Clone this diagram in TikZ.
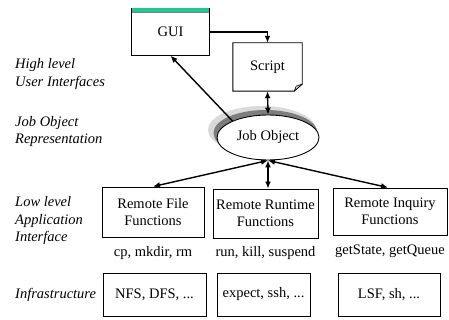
\documentclass[tikz,border=0pt]{standalone}
\usepackage{fontspec}
\setmainfont{Liberation Serif}
\usetikzlibrary{arrows.meta,shapes.geometric,calc}
\definecolor{guibar}{RGB}{30,200,145}
\definecolor{shadowlight}{RGB}{218,218,218}
\definecolor{shadowdark}{RGB}{125,125,125}

\begin{document}
\begin{tikzpicture}[x=1pt,y=-1pt,
  font=\fontsize{14.5}{17.5}\selectfont,
  box/.style={draw, line width=0.9pt, align=center, inner sep=0pt},
  conn/.style={line width=1.4pt, -{Latex[length=7pt,width=6pt]}},
  biconn/.style={line width=1.4pt, {Latex[length=7pt,width=6pt]}-{Latex[length=7pt,width=6pt]}},
  layer/.style={font=\fontsize{14.5}{17.5}\selectfont\itshape, align=left, anchor=west, inner sep=0pt},
  caption/.style={inner sep=0pt}]
\useasboundingbox (0,0) rectangle (449,320);

% layer titles on the left
\node[layer] (l1) at (15,74) {High level\\User Interfaces};
\node[layer] (l2) at (15,131.5) {Job Object\\Representation};
\node[layer] (l3) at (15,221) {Low level\\Application\\Interface};
\node[layer] (l4) at (15,295) {Infrastructure};

% user interfaces: window with a green title bar
\node[align=center, inner sep=0pt, minimum width=77pt, minimum height=47pt] (gui) at (170.5,32) {GUI};
\fill[guibar] (gui.north west) rectangle ($(gui.north east)+(0,3.5)$);
\draw[gray, line width=0.8pt] ($(gui.north west)+(0,3.8)$) -- ($(gui.north east)+(0,3.8)$);
\draw[line width=0.9pt] (gui.north west) -- (gui.south west) -- (gui.south east) -- (gui.north east);

% script: document with a folded lower right corner
\node[inner sep=0pt, minimum width=69pt, minimum height=48pt] (script) at (267.5,67) {};
\draw[line width=0.9pt, fill=white]
  (script.north west) -- (script.north east) -- ($(script.south east)+(0,-7)$)
  -- ($(script.south east)+(-8,0)$) -- (script.south west) -- cycle;
\draw[line width=0.7pt]
  ($(script.south east)+(0,-7)$) -- ($(script.south east)+(-6,-5)$) -- ($(script.south east)+(-8,0)$);
\node[inner sep=0pt] (scripttext) at (script.center) {Script};

% job object with its shadow
\node[ellipse, fill=shadowlight, minimum width=108pt, minimum height=48pt, inner sep=0pt] (shA) at (262,130) {};
\node[ellipse, fill=shadowdark, minimum width=104pt, minimum height=46pt, inner sep=0pt] (shB) at (265.5,133) {};
\node[ellipse, draw, fill=white, line width=0.9pt, minimum width=102pt, minimum height=45pt, inner sep=0pt] (job) at (268,137.5) {Job Object};

% low level application interface
\node[box, minimum width=102pt, minimum height=50pt] (file) at (153,212) {Remote File\\Functions};
\node[box, minimum width=105pt, minimum height=49pt] (run) at (265.5,213.5) {Remote Runtime\\Functions};
\node[box, minimum width=114pt, minimum height=47pt] (inq) at (390,211.5) {Remote Inquiry\\Functions};

\node[caption] (filecap) at (153,253) {cp, mkdir, rm};
\node[caption] (runcap) at (265.5,253) {run, kill, suspend};
\node[caption] (inqcap) at (390,251) {getState, getQueue};

% infrastructure
\node[box, minimum width=103pt, minimum height=43pt] (nfs) at (154.5,294.5) {NFS, DFS, ...};
\node[box, minimum width=93pt, minimum height=43pt] (exp) at (263.5,294.5) {expect, ssh, ...};
\node[box, minimum width=102pt, minimum height=43pt] (lsf) at (389,294.5) {LSF, sh, ...};

% connectors
\draw[conn] (gui.east) -| (script.north);
\draw[biconn] (script.south) -- (job.north);
\draw[conn] (job.155) -- (gui.south);
\draw[biconn] (job.south) -- (file.north);
\draw[biconn] (job.south) -- (job.south |- run.north);
\draw[biconn] (job.south) -- ($(inq.north)+(-2,0)$);
\end{tikzpicture}
\end{document}
